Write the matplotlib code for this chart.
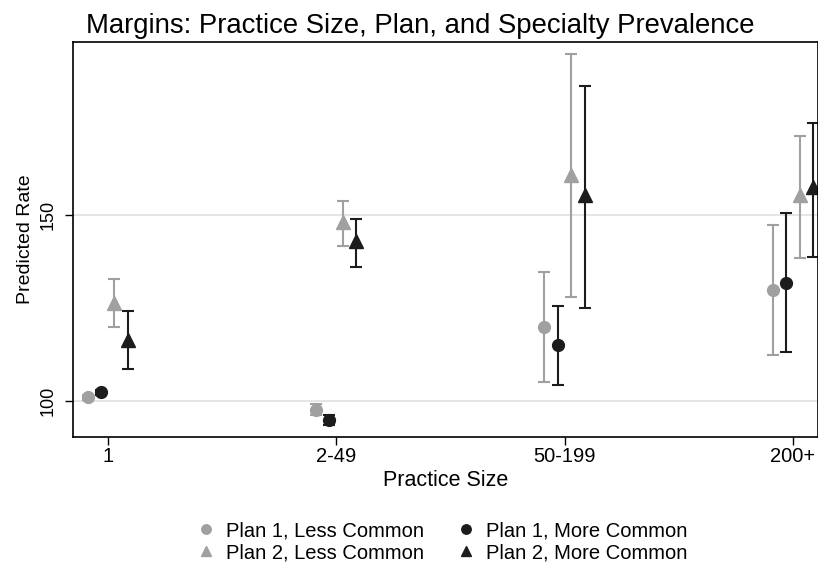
import matplotlib
matplotlib.use("Agg")
import matplotlib.pyplot as plt

plt.rcParams['font.family'] = ['Liberation Sans', 'DejaVu Sans']

sizes = ["1", "2-49", "50-199", "200+"]
pos = [1, 2, 3, 4]

# estimate, lower, upper per series
p1_less = [101.0, 97.6, 119.8, 129.8]
p1_less_lo = [100.3, 96.1, 105.0, 112.3]
p1_less_hi = [101.7, 99.1, 134.5, 147.2]

p1_more = [102.3, 94.9, 114.9, 131.7]
p1_more_lo = [101.6, 93.6, 104.3, 113.0]
p1_more_hi = [103.0, 96.2, 125.5, 150.3]

p2_less = [126.2, 147.9, 160.6, 155.3]
p2_less_lo = [119.7, 141.7, 127.8, 138.4]
p2_less_hi = [132.6, 153.6, 193.0, 171.1]

p2_more = [116.4, 142.9, 155.3, 157.3]
p2_more_lo = [108.6, 136.0, 125.0, 138.7]
p2_more_hi = [124.2, 148.9, 184.5, 174.7]

series = [
    ("Plan 1, Less Common", p1_less, p1_less_lo, p1_less_hi, "#a0a0a0", "o", -0.088),
    ("Plan 1, More Common", p1_more, p1_more_lo, p1_more_hi, "#1c1c1c", "o", -0.029),
    ("Plan 2, Less Common", p2_less, p2_less_lo, p2_less_hi, "#a0a0a0", "^", 0.029),
    ("Plan 2, More Common", p2_more, p2_more_lo, p2_more_hi, "#1c1c1c", "^", 0.088),
]

fig = plt.figure(figsize=(8.18, 5.69), dpi=100)
ax = fig.add_axes([0.089, 0.232, 0.911, 0.694])

handles = []
for label, est, lo, hi, col, mk, off in series:
    x = [p + off for p in pos]
    yerr = [[e - l for e, l in zip(est, lo)], [h - e for e, h in zip(est, hi)]]
    eb = ax.errorbar(x, est, yerr=yerr, fmt=mk, color=col, ecolor=col,
                     markersize=8.5 if mk == "o" else 9.5, elinewidth=1.5,
                     capsize=4.3, capthick=1.5, label=label)
    handles.append(eb[0])

ax.set_xlim(0.847, 4.11)
ax.set_ylim(90.3, 196.3)
ax.set_xticks(pos)
ax.set_xticklabels(sizes, fontsize=14.5)
ax.set_yticks([100, 150])
ax.set_yticklabels(["100", "150"], fontsize=13, rotation=90, va="center")
for v in [100, 150]:
    ax.axhline(v, color="#e0e0e0", lw=1.2, zorder=0)
ax.set_xlabel("Practice Size", fontsize=15.5, labelpad=2.5)
ax.set_ylabel("Predicted Rate", fontsize=14)
ax.yaxis.set_label_coords(-0.052, 0.5)
ax.set_title("Margins: Practice Size, Plan, and Specialty Prevalence",
             fontsize=19.8, loc="left", x=0.018, pad=6.5)
for s in ax.spines.values():
    s.set_linewidth(1.2)
ax.tick_params(axis="x", length=5.5, width=1, pad=2)
ax.tick_params(axis="y", length=5.5, width=1, pad=6)

# row-major order for the legend (matplotlib fills columns first)
order = [0, 2, 1, 3]
fig.legend([handles[i] for i in order], [series[i][0] for i in order],
           ncol=2, loc="center", bbox_to_anchor=(0.54, 0.048),
           frameon=False, fontsize=14.5, handletextpad=0.5, columnspacing=1.6,
           labelspacing=0.15, handlelength=1.0, markerscale=0.8,
           borderpad=0)

fig.savefig("out.png", dpi=100)
